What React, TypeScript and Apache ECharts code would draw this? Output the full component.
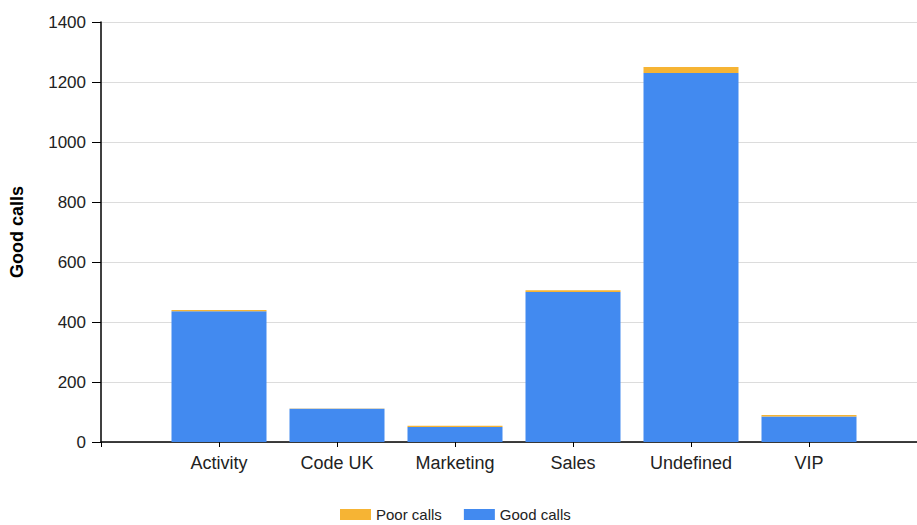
import React, { useEffect, useRef } from "react";
import * as echarts from "echarts";

const categories = ["", "Activity", "Code UK", "Marketing", "Sales", "Undefined", "VIP", ""];
const poorCalls = [null, 4, 1, 4, 6, 20, 5, null];
const goodCalls = [null, 436, 111, 50, 500, 1230, 85, null];
const yTicks = { min: 0, max: 1400, interval: 200 };

export default function App() {
  const ref = useRef<HTMLDivElement>(null);
  useEffect(() => {
    if (!ref.current) return;
    const chart = echarts.init(ref.current, null, { renderer: "svg" });
    const font = "Liberation Sans, Arial, sans-serif";
    chart.setOption({
      animation: false,
      textStyle: { fontFamily: font },
      grid: { left: 99, right: 13, top: 22, bottom: 83, containLabel: false },
      legend: {
        top: 507,
        left: 340,
        padding: 0,
        itemWidth: 31,
        itemHeight: 11,
        itemGap: 22,
        icon: "rect",
        textStyle: { fontSize: 15, color: "#222", fontFamily: font },
        data: ["Poor calls", "Good calls"],
      },
      xAxis: {
        type: "category",
        data: categories,
        boundaryGap: false,
        axisLine: { lineStyle: { color: "#000", width: 1.5 } },
        axisTick: { show: true, length: 5, lineStyle: { color: "#000" }, alignWithLabel: true },
        axisLabel: { fontSize: 18, color: "#222", margin: 12, interval: 0, fontFamily: font },
        splitLine: { show: false },
      },
      yAxis: {
        type: "value",
        min: yTicks.min,
        max: yTicks.max,
        interval: yTicks.interval,
        name: "Good calls",
        nameLocation: "middle",
        nameGap: 75,
        nameTextStyle: { fontSize: 18, fontWeight: "bold", color: "#000", fontFamily: font },
        axisLine: { show: true, lineStyle: { color: "#000", width: 1.5 } },
        axisTick: { show: true, length: 9, lineStyle: { color: "#000" } },
        axisLabel: {
          fontSize: 17,
          color: "#222",
          margin: 15,
          fontFamily: font,
          formatter: (v: number) => String(v),
        },
        splitLine: { show: true, lineStyle: { color: "#dcdcdc", width: 1 } },
      },
      series: [
        {
          name: "Good calls",
          type: "bar",
          stack: "total",
          data: goodCalls,
          barWidth: 95,
          itemStyle: { color: "#428AF0" },
        },
        {
          name: "Poor calls",
          type: "bar",
          stack: "total",
          data: poorCalls,
          barWidth: 95,
          itemStyle: { color: "#F6B434" },
        },
      ],
    });
    return () => chart.dispose();
  }, []);
  return (
    <div
      ref={ref}
      style={{ position: "fixed", left: 0, top: 0, width: 940, height: 525, background: "#fff" }}
    />
  );
}
